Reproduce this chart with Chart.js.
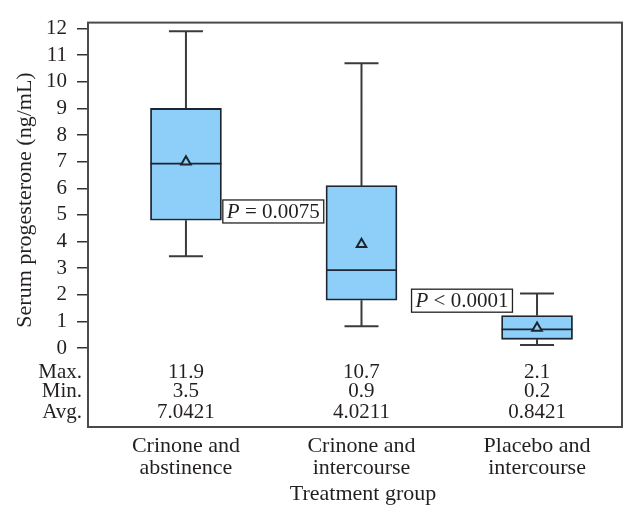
<!DOCTYPE html>
<html><head><meta charset="utf-8">
<script src="https://cdn.jsdelivr.net/npm/chart.js@4/dist/chart.umd.min.js"></script>
<style>html,body{margin:0;padding:0;background:#fff}#wrap{width:636px;height:525px;position:relative}</style>
</head><body><div id="wrap"><canvas id="c" width="636" height="525"></canvas></div>
<script>
// ---- data ----
const categories = [["Crinone and","abstinence"],["Crinone and","intercourse"],["Placebo and","intercourse"]];
const groupPos = [1, 2, 3];
const whiskerMax = [11.9, 10.7, 2.05];
const q3 = [9.0, 6.1, 1.22];
const median = [6.93, 2.93, 0.70];
const q1 = [4.8, 1.8, 0.33];
const whiskerMin = [3.45, 0.82, 0.12];
const meanMarker = [7.0, 3.9, 0.75];
const rowLabels = ["Max.", "Min.", "Avg."];
const tableMax = ["11.9", "10.7", "2.1"];
const tableMin = ["3.5", "0.9", "0.2"];
const tableAvg = ["7.0421", "4.0211", "0.8421"];
const yTicks = [0,1,2,3,4,5,6,7,8,9,10,11,12];
const pLabels = ["= 0.0075", "< 0.0001"];
const yTitle = "Serum progesterone (ng/mL)";
const xTitle = "Treatment group";

// ---- styles ----
const FONT = "'Liberation Serif', 'Times New Roman', serif";
const FS = 21;
const FS2 = 22;
const TEXT = '#231f20';
const BOX_FILL = '#8ecffa';
const BOX_LINE = '#1c2530';
const WHISK = '#3a3a3a';

const boxData = groupPos.map((x, i) => ({x, y: [q1[i], q3[i]]}));
const whiskerData = [];
groupPos.forEach((x, i) => {
  whiskerData.push({x, y: q3[i]}, {x, y: whiskerMax[i]}, {x, y: null});
  whiskerData.push({x, y: whiskerMin[i]}, {x, y: q1[i]}, {x, y: null});
});
const capData = [];
groupPos.forEach((x, i) => { capData.push({x, y: whiskerMax[i]}, {x, y: whiskerMin[i]}); });
const medianData = groupPos.map((x, i) => ({x, y: median[i]}));
const meanData = groupPos.map((x, i) => ({x, y: meanMarker[i]}));

const overlay = {
  id: 'overlay',
  afterDraw(chart) {
    const {ctx, chartArea: a, scales: {x, y}} = chart;
    ctx.save();
    // frame
    ctx.strokeStyle = '#4a4a4a';
    ctx.lineWidth = 2;
    ctx.strokeRect(a.left, a.top, a.right - a.left, a.bottom - a.top);
    // table
    ctx.fillStyle = TEXT;
    ctx.font = FS + 'px ' + FONT;
    ctx.textBaseline = 'middle';
    const rowY = [-0.93, -1.64, -2.42].map(v => y.getPixelForValue(v));
    const rows = [tableMax, tableMin, tableAvg];
    rowLabels.forEach((lab, r) => {
      ctx.textAlign = 'right';
      ctx.fillText(lab, a.left - 6, rowY[r]);
      ctx.textAlign = 'center';
      rows[r].forEach((t, i) => ctx.fillText(t, x.getPixelForValue(groupPos[i]), rowY[r]));
    });
    // p-value boxes
    const drawP = (txt, anchorX, cy, alignLeft) => {
      ctx.font = 'italic ' + FS + 'px ' + FONT;
      const wP = ctx.measureText('P').width;
      ctx.font = FS + 'px ' + FONT;
      const wR = ctx.measureText(' ' + txt).width;
      const w = wP + wR + 8, h = 23;
      const left = alignLeft ? anchorX : anchorX - w;
      ctx.fillStyle = '#fff';
      ctx.fillRect(left, cy - h / 2, w, h);
      ctx.strokeStyle = '#222';
      ctx.lineWidth = 1.3;
      ctx.strokeRect(left, cy - h / 2, w, h);
      ctx.fillStyle = TEXT;
      ctx.textAlign = 'left';
      ctx.font = 'italic ' + FS + 'px ' + FONT;
      ctx.fillText('P', left + 4, cy + 1);
      ctx.font = FS + 'px ' + FONT;
      ctx.fillText(' ' + txt, left + 4 + wP, cy + 1);
    };
    drawP(pLabels[0], x.getPixelForValue(1.21), y.getPixelForValue(5.13), true);
    drawP(pLabels[1], x.getPixelForValue(2.86), y.getPixelForValue(1.78), false);
    // axis titles
    ctx.fillStyle = TEXT;
    ctx.font = FS2 + 'px ' + FONT;
    ctx.textAlign = 'center';
    ctx.fillText(xTitle, 363, 494);
    ctx.save();
    ctx.translate(25, 200);
    ctx.rotate(-Math.PI / 2);
    ctx.fillText(yTitle, 0, 0);
    ctx.restore();
    ctx.restore();
  }
};

new Chart(document.getElementById('c'), {
  type: 'bar',
  data: {
    datasets: [
      { type: 'scatter', data: whiskerData, showLine: true, spanGaps: false, borderColor: WHISK, borderWidth: 2, pointRadius: 0, order: 5 },
      { type: 'scatter', data: capData, pointStyle: 'line', pointRadius: 17, borderColor: WHISK, borderWidth: 2, order: 4 },
      { type: 'bar', data: boxData, backgroundColor: BOX_FILL, borderColor: BOX_LINE, borderWidth: 1.8, borderSkipped: false, barThickness: 71, order: 3 },
      { type: 'scatter', data: medianData, pointStyle: 'line', pointRadius: 35.5, borderColor: BOX_LINE, borderWidth: 1.8, order: 2 },
      { type: 'scatter', data: meanData, pointStyle: 'triangle', pointRadius: 5.5, backgroundColor: BOX_FILL, borderColor: BOX_LINE, borderWidth: 2, order: 1 }
    ]
  },
  options: {
    responsive: false,
    animation: false,
    events: [],
    layout: { autoPadding: false, padding: { top: 17, right: 14, left: 0, bottom: 0 } },
    plugins: { legend: { display: false }, tooltip: { enabled: false } },
    scales: {
      x: {
        type: 'linear', min: 0.442, max: 3.484, offset: false,
        afterBuildTicks: s => { s.ticks = groupPos.map(v => ({value: v})); },
        afterFit: s => { s.height = 98; },
        ticks: {
          callback: (v) => categories[groupPos.indexOf(v)],
          color: TEXT, font: { family: FONT, size: FS2, lineHeight: 1.0 }, padding: 8, maxRotation: 0, autoSkip: false
        },
        grid: { display: false, drawTicks: false },
        border: { display: false }
      },
      y: {
        type: 'linear', min: -2.963, max: 12.222,
        afterBuildTicks: s => { s.ticks = yTicks.map(v => ({value: v})); },
        afterFit: s => { s.width = 88; },
        ticks: { callback: v => String(v), color: TEXT, font: { family: FONT, size: FS }, padding: 10 },
        grid: { drawOnChartArea: false, tickLength: 11, tickColor: '#333', lineWidth: 1.5 },
        border: { display: false }
      }
    }
  },
  plugins: [overlay]
});
</script></body></html>
